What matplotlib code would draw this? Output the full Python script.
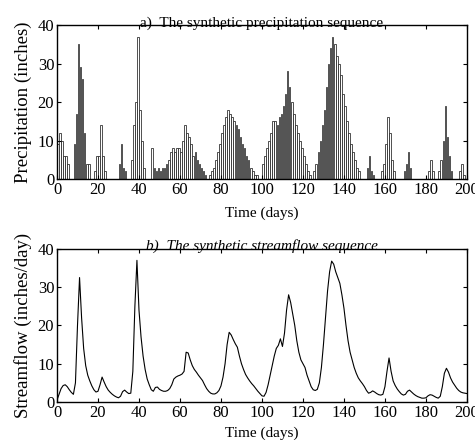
import numpy as np
import matplotlib
matplotlib.use("Agg")
import matplotlib.pyplot as plt

plt.rcParams['font.family'] = ['Liberation Serif', 'DejaVu Serif']

# ---- data ----
precip = [
    9, 12, 10, 6, 6, 4, 0, 0, 9, 17,          # 0-9
    35, 29, 26, 12, 4, 4, 0, 0, 2, 6,         # 10-19
    6, 14, 6, 2, 0, 0, 0, 0, 0, 0,            # 20-29
    4, 9, 3, 2, 0, 0, 5, 14, 20, 37,          # 30-39
    18, 10, 3, 0, 0, 0, 8, 3, 2, 3,           # 40-49
    2, 3, 3, 4, 5, 7, 8, 7, 8, 8,             # 50-59
    7, 10, 14, 12, 11, 9, 6, 7, 5, 4,         # 60-69
    3, 2, 1, 0, 1, 2, 3, 5, 7, 9,             # 70-79
    12, 14, 16, 18, 17, 16, 15, 14, 13, 11,   # 80-89
    9, 8, 6, 5, 3, 2, 1, 1, 0, 0,             # 90-99
    4, 6, 8, 10, 12, 15, 15, 14, 16, 17,      # 100-109
    19, 22, 28, 24, 20, 17, 14, 12, 10, 8,    # 110-119
    6, 4, 2, 1, 0, 2, 4, 7, 10, 14,           # 120-129
    18, 24, 30, 34, 37, 35, 32, 30, 27, 22,   # 130-139
    19, 15, 12, 9, 7, 5, 3, 2, 0, 0,          # 140-149
    0, 3, 6, 2, 1, 0, 0, 0, 2, 4,             # 150-159
    9, 16, 12, 5, 2, 0, 0, 0, 0, 2,           # 160-169
    4, 7, 3, 0, 0, 0, 0, 0, 0, 0,             # 170-179
    0, 2, 5, 2, 0, 0, 2, 5, 10, 19,           # 180-189
    11, 6, 2, 0, 0, 0, 2, 4, 1, 0,            # 190-199
]

streamflow = [
    0.5, 2.0, 3.5, 4.3, 4.5, 4.0, 3.2, 2.5, 2.0, 5.0,
    20.0, 32.5, 22.0, 14.0, 9.5, 7.0, 5.5, 4.2, 3.2, 2.6,
    2.8, 4.5, 6.5, 5.2, 4.0, 3.1, 2.5, 2.0, 1.6, 1.3,
    1.1, 1.5, 2.7, 3.1, 2.6, 2.2, 2.3, 8.0, 25.0, 37.0,
    24.0, 17.0, 12.0, 8.5, 6.0, 4.5, 3.2, 2.8, 3.8, 3.9,
    3.3, 3.0, 2.8, 2.8, 3.0, 3.5, 4.5, 6.0, 6.5, 6.8,
    7.0, 7.3, 8.0, 13.0, 12.8, 11.0, 9.5, 8.5, 7.8, 7.0,
    6.3, 5.6, 4.5, 3.5, 2.8, 2.3, 2.1, 2.1, 2.4, 3.0,
    4.2, 6.5, 10.0, 15.0, 18.2, 17.5, 16.3, 15.2, 14.3, 12.0,
    10.0, 8.5, 7.2, 6.3, 5.5, 4.8, 4.2, 3.5, 2.8, 2.2,
    1.6, 1.5, 2.5, 4.5, 7.0, 9.5, 12.0, 14.0, 14.8, 16.5,
    14.5, 18.0, 24.0, 28.0, 26.0, 23.0, 20.0, 16.0, 13.0, 11.0,
    10.0, 9.0, 7.0, 5.5, 4.0, 3.2, 3.0, 3.3, 5.0, 9.0,
    15.0, 22.0, 29.0, 34.0, 36.8, 36.0, 34.0, 32.5, 31.0, 28.0,
    24.5, 20.0, 16.0, 13.0, 11.0, 9.0, 7.5, 6.3, 5.5, 4.8,
    4.0, 3.0, 2.3, 2.5, 2.9, 2.6, 2.2, 1.9, 1.8, 2.0,
    4.0, 8.0, 11.5, 8.0, 5.5, 4.3, 3.4, 2.7, 2.1, 1.8,
    2.0, 2.8, 3.1, 2.6, 2.1, 1.7, 1.4, 1.2, 1.0, 1.0,
    1.1, 1.6, 1.9, 1.8, 1.5, 1.2, 1.0, 1.5, 4.0, 7.5,
    8.8, 7.8, 6.3, 5.2, 4.4, 3.6, 3.0, 2.6, 2.4, 2.3,
    2.2,
]

xticks = [0, 20, 40, 60, 80, 100, 120, 140, 160, 180, 200]
yticks = [0, 10, 20, 30, 40]

days_p = np.arange(len(precip))
days_q = np.arange(len(streamflow))

fig = plt.figure(figsize=(4.75, 4.4), dpi=100)
ax1 = fig.add_axes([0.12, 0.593, 0.863, 0.350])
ax2 = fig.add_axes([0.12, 0.0864, 0.863, 0.348])

fs = 11

ax1.bar(days_p + 0.5, precip, width=0.8, facecolor='white', edgecolor='#222222',
        linewidth=0.55)
ax2.plot(days_q, streamflow, color='black', linewidth=0.8)

for ax in (ax1, ax2):
    ax.set_xlim(0, 200)
    ax.set_ylim(0, 40)
    ax.set_xticks(xticks)
    ax.set_yticks(yticks)
    ax.tick_params(direction='in', top=True, right=True, length=3,
                   labelsize=12, pad=2, width=0.8)
    for s in ax.spines.values():
        s.set_linewidth(1.0)

ax1.set_xlabel('Time (days)', fontsize=fs, labelpad=6)
ax2.set_xlabel('Time (days)', fontsize=fs, labelpad=4)
ax1.set_ylabel('Precipitation (inches)', fontsize=13.5, labelpad=4)
ax2.set_ylabel('Streamflow (inches/day)', fontsize=13.5, labelpad=4)
ax1.set_title('a)  The synthetic precipitation sequence', fontsize=fs, pad=-1)
ax2.set_title('b)  The synthetic streamflow sequence', fontsize=fs, pad=-1,
              style='italic')

fig.savefig('out.png', dpi=100)
